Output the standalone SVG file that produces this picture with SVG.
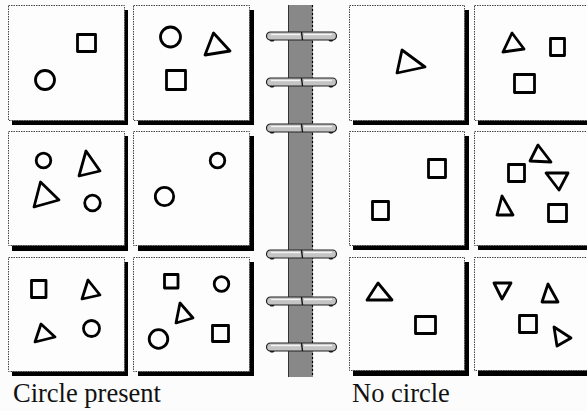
<svg xmlns="http://www.w3.org/2000/svg" width="587" height="411" viewBox="0 0 587 411">
<style>
.bg{fill:#fcfcfc}
.sh{fill:#000}
.pn{fill:#fdfdfd;stroke:#444;stroke-width:1;stroke-dasharray:1.5 1}
.s{fill:none;stroke:#000;stroke-width:2.8;stroke-linejoin:round}
.lbl{font-family:"Liberation Serif","Times New Roman",serif;font-size:26.5px;fill:#111}
.ring{fill:#c4c4c4;stroke:#222;stroke-width:1.2}
.hl{stroke:#f4f4f4;stroke-width:1.4;fill:none}
.knob{fill:#111}
</style>
<defs>
<g id="ringShape">
<circle class="knob" cx="272" cy="3" r="2.6"/>
<circle class="knob" cx="331" cy="3" r="2.6"/>
<rect class="ring" x="266.5" y="-4" width="70" height="8" rx="4"/>
<line class="hl" x1="271" y1="-1.5" x2="300" y2="-1.5"/>
<line class="hl" x1="304" y1="-1.5" x2="332" y2="-1.5"/>
<line x1="301.5" y1="-4" x2="302.5" y2="4" stroke="#111" stroke-width="1.4"/>
</g>
</defs>
<rect class="bg" x="0" y="0" width="587" height="411"/>

<g id="panel-l1-1">
<rect class="sh" x="12" y="10" width="116" height="115"/>
<rect class="pn" x="8.5" y="5.5" width="116" height="115"/>
<rect class="s" x="77.5" y="34.5" width="18" height="17"/>
<circle class="s" cx="45" cy="80" r="9.5"/>
</g>
<g id="panel-l1-2">
<rect class="sh" x="138" y="10" width="116" height="115"/>
<rect class="pn" x="133.5" y="5.5" width="116" height="115"/>
<circle class="s" cx="170.5" cy="37" r="10"/>
<polygon class="s" points="213.5,33 205,55 230,51"/>
<rect class="s" x="166.5" y="70.5" width="19" height="19"/>
</g>

<g id="panel-l2-1">
<rect class="sh" x="12" y="136" width="116" height="115"/>
<rect class="pn" x="8.5" y="131.5" width="116" height="114"/>
<circle class="s" cx="43.5" cy="160.5" r="7.3"/>
<polygon class="s" points="86,151 79,176 100,171"/>
<polygon class="s" points="40.5,182 34,207 59,200"/>
<circle class="s" cx="92.5" cy="203" r="7.8"/>
</g>
<g id="panel-l2-2">
<rect class="sh" x="138" y="136" width="116" height="115"/>
<rect class="pn" x="133.5" y="131.5" width="116" height="114"/>
<circle class="s" cx="217.5" cy="160.5" r="7.3"/>
<circle class="s" cx="164.5" cy="196.5" r="9.2"/>
</g>

<g id="panel-l3-1">
<rect class="sh" x="12" y="262" width="116" height="114"/>
<rect class="pn" x="8.5" y="257.5" width="116" height="114"/>
<rect class="s" x="31.5" y="280.5" width="14.5" height="17"/>
<polygon class="s" points="88,280 82,299 100,295"/>
<polygon class="s" points="41,324 35,342 55,337"/>
<circle class="s" cx="91.5" cy="328.5" r="8"/>
</g>
<g id="panel-l3-2">
<rect class="sh" x="138" y="262" width="116" height="114"/>
<rect class="pn" x="133.5" y="257.5" width="116" height="114"/>
<rect class="s" x="164.5" y="274.5" width="13.5" height="13.5"/>
<circle class="s" cx="221.5" cy="284" r="7.3"/>
<polygon class="s" points="180,303 176,323 193,318"/>
<circle class="s" cx="158.5" cy="339" r="9.3"/>
<rect class="s" x="212.5" y="325.5" width="16" height="16"/>
</g>

<g id="binder">
<rect x="288.5" y="5" width="24.5" height="372" fill="#888"/>
<line x1="288.5" y1="5" x2="288.5" y2="377" stroke="#333" stroke-width="1"/>
<line x1="312.5" y1="5" x2="312.5" y2="377" stroke="#000" stroke-width="1.2" stroke-dasharray="2 2"/>
<use href="#ringShape" transform="translate(0,36)"/>
<use href="#ringShape" transform="translate(0,82)"/>
<use href="#ringShape" transform="translate(0,128)"/>
<use href="#ringShape" transform="translate(0,254)"/>
<use href="#ringShape" transform="translate(0,301)"/>
<use href="#ringShape" transform="translate(0,347)"/>
</g>

<g id="panel-r1-1">
<rect class="sh" x="353" y="10" width="116" height="115"/>
<rect class="pn" x="349.5" y="5.5" width="115" height="115"/>
<polygon class="s" points="402,50 397,73 425,67"/>
</g>
<g id="panel-r1-2">
<rect class="sh" x="478" y="10" width="116" height="115"/>
<rect class="pn" x="474.5" y="5.5" width="116" height="115"/>
<polygon class="s" points="512,33 503,52 524,49"/>
<rect class="s" x="550.5" y="38.5" width="14" height="17"/>
<rect class="s" x="514.5" y="74.5" width="20" height="18"/>
</g>

<g id="panel-r2-1">
<rect class="sh" x="353" y="136" width="116" height="114"/>
<rect class="pn" x="349.5" y="131.5" width="115" height="114"/>
<rect class="s" x="428.5" y="159.5" width="17" height="18"/>
<rect class="s" x="372.5" y="201.5" width="16" height="18"/>
</g>
<g id="panel-r2-2">
<rect class="sh" x="478" y="136" width="116" height="114"/>
<rect class="pn" x="474.5" y="131.5" width="116" height="114"/>
<polygon class="s" points="538,145 530,161 551,162"/>
<rect class="s" x="508.5" y="164.5" width="16" height="17"/>
<polygon class="s" points="546,173 568,173 559,190"/>
<polygon class="s" points="502,196 497,215 513,215"/>
<rect class="s" x="548.5" y="204.5" width="18" height="17"/>
</g>

<g id="panel-r3-1">
<rect class="sh" x="353" y="262" width="116" height="114"/>
<rect class="pn" x="349.5" y="257.5" width="115" height="113"/>
<polygon class="s" points="378,283 367,300 392,300"/>
<rect class="s" x="415.5" y="316.5" width="20" height="17"/>
</g>
<g id="panel-r3-2">
<rect class="sh" x="478" y="262" width="116" height="114"/>
<rect class="pn" x="474.5" y="257.5" width="116" height="113"/>
<polygon class="s" points="494,283 511,283 502,299"/>
<polygon class="s" points="548,284 542,302 558,302"/>
<rect class="s" x="519.5" y="315.5" width="17" height="17"/>
<polygon class="s" points="554,327 557,346 571,338"/>
</g>

<text class="lbl" x="13" y="402">Circle present</text>
<text class="lbl" x="352" y="402">No circle</text>
</svg>
